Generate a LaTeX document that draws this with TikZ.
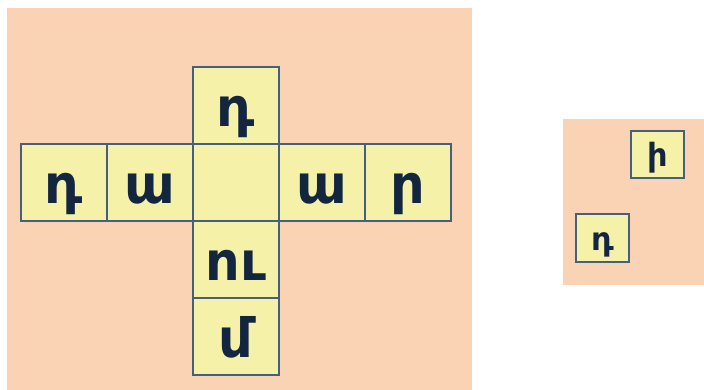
\documentclass[tikz,border=0pt]{standalone}
\usepackage{fontspec}
\newfontfamily\armfont{DejaVu Sans}
\usetikzlibrary{positioning}
\definecolor{peach}{HTML}{FAD3B4}
\definecolor{cellfill}{HTML}{F6F1A9}
\definecolor{cellline}{HTML}{45607F}
\definecolor{letter}{HTML}{12263F}

\begin{document}
\begin{tikzpicture}[x=1pt,y=-1pt,
  cell/.style={draw=cellline,line width=2pt,fill=cellfill,text=letter,inner sep=0pt,outer sep=0pt,
    minimum width=86pt,minimum height=77pt,text height=42pt,text depth=0pt,
    font=\armfont\bfseries\fontsize{54}{54}\selectfont},
  tile/.style={cell,minimum width=53pt,minimum height=47pt,text height=25pt,
    font=\armfont\bfseries\fontsize{32}{32}\selectfont}]
\useasboundingbox (0,0) rectangle (704,390);
\fill[peach] (7,8) rectangle (472,390);
\fill[peach] (563,119) rectangle (704,285);
% the net
\node[cell] (mid) at (236,182.5) {};
\node[cell,above=0pt of mid] (top) {դ};
\node[cell,left=0pt of mid] (l1) {ա};
\node[cell,left=0pt of l1] (l2) {դ};
\node[cell,right=0pt of mid] (r1) {ա};
\node[cell,right=0pt of r1] (r2) {ր};
\node[cell,below=0pt of mid] (b1) {ու};
\node[cell,below=0pt of b1] (b2) {մ};
% the two loose faces
\node[tile] (hi) at (657.5,154.5) {ի};
\node[tile] (da) at (602.5,238) {դ};
\end{tikzpicture}
\end{document}
